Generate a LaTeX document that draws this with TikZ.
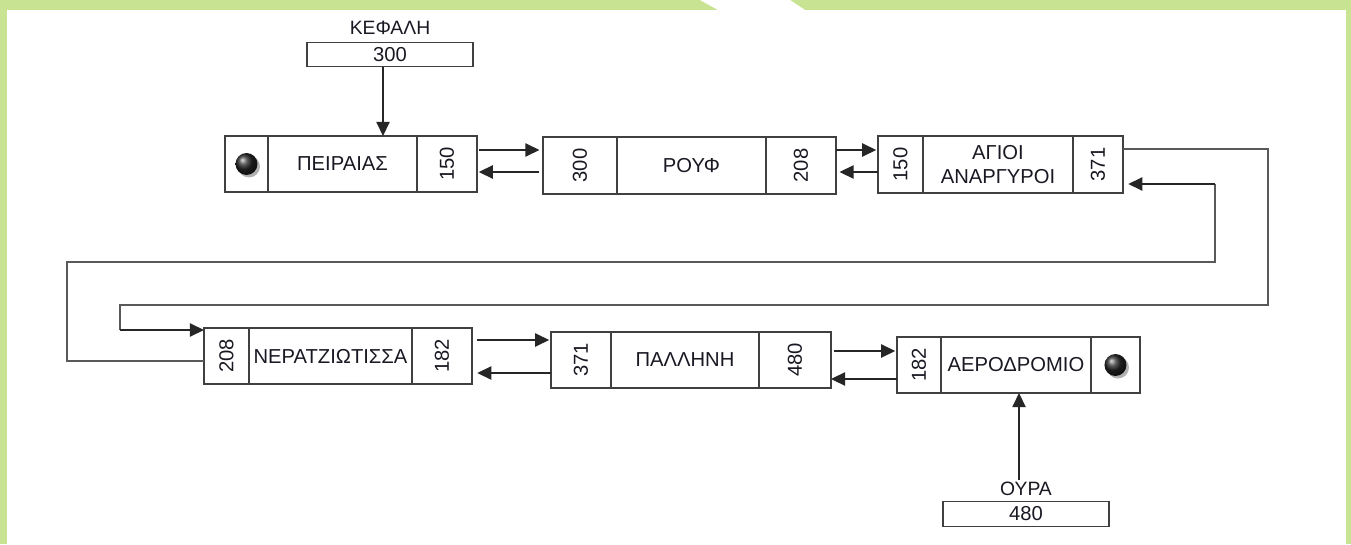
\documentclass[tikz,border=0pt]{standalone}
\usepackage{fontspec}
\setmainfont{Liberation Sans}
\usepackage{graphicx}
\usepackage{tikz}
\usetikzlibrary{arrows.meta,positioning}
\definecolor{frame}{RGB}{200,227,145}
\definecolor{ink}{RGB}{25,25,35}

\begin{document}
\begin{tikzpicture}[x=0.02cm,y=-0.02cm,
  cell/.style={draw=black!75,line width=0.8pt,fill=white,
               minimum height=1.12cm,inner sep=0pt,outer sep=0pt,
               font=\fontsize{11.5}{14}\selectfont,text=ink,align=center},
  ptr/.style={draw=black!75,line width=0.8pt,fill=white,
              minimum width=3.32cm,minimum height=0.49cm,inner sep=0pt,
              font=\fontsize{11.5}{13}\selectfont,text=ink},
  lbl/.style={font=\fontsize{11}{12}\selectfont,text=ink,inner sep=1pt},
  arr/.style={-{Triangle[length=8pt,width=7.5pt]},line width=0.8pt,color=black!85},
  link/.style={line width=0.7pt,color=black!65},
  nil/.style={ball color=black!85}
]
\useasboundingbox (0,0) rectangle (1351,544);

% frame
\fill[frame] (0,0) rectangle (1351,544);
\fill[white] (7,10) rectangle (1346,544);
\fill[white] (700,0) -- (790,0) -- (805,10) -- (718,10) -- cycle;

% head pointer
\node[lbl] (headlbl) at (390,28) {ΚΕΦΑΛΗ};
\node[ptr] (head) at (390,54.5) {300};

% first row
\node[cell,minimum width=0.86cm,anchor=west] (p1a) at (225,164) {};
\node[cell,minimum width=2.98cm,right=0pt of p1a] (p1b) {ΠΕΙΡΑΙΑΣ};
\node[cell,minimum width=1.2cm,right=0pt of p1b] (p1c) {\rotatebox{90}{150}};

\node[cell,minimum width=1.48cm,minimum height=1.14cm,anchor=west] (p2a) at (543,165.5) {\rotatebox{90}{300}};
\node[cell,minimum width=2.98cm,minimum height=1.14cm,right=0pt of p2a] (p2b) {ΡΟΥΦ};
\node[cell,minimum width=1.4cm,minimum height=1.14cm,right=0pt of p2b] (p2c) {\rotatebox{90}{208}};

\node[cell,minimum width=0.9cm,minimum height=1.14cm,anchor=west] (p3a) at (878,164.5) {\rotatebox{90}{150}};
\node[cell,minimum width=3cm,minimum height=1.14cm,right=0pt of p3a] (p3b) {ΑΓΙΟΙ\\ΑΝΑΡΓΥΡΟΙ};
\node[cell,minimum width=1cm,minimum height=1.14cm,right=0pt of p3b] (p3c) {\rotatebox{90}{371}};

% second row
\node[cell,minimum width=0.9cm,anchor=west] (p4a) at (204,356) {\rotatebox{90}{208}};
\node[cell,minimum width=3.26cm,right=0pt of p4a] (p4b) {ΝΕΡΑΤΖΙΩΤΙΣΣΑ};
\node[cell,minimum width=1.2cm,right=0pt of p4b] (p4c) {\rotatebox{90}{182}};

\node[cell,minimum width=1.2cm,anchor=west] (p5a) at (551,360) {\rotatebox{90}{371}};
\node[cell,minimum width=2.96cm,right=0pt of p5a] (p5b) {ΠΑΛΛΗΝΗ};
\node[cell,minimum width=1.44cm,right=0pt of p5b] (p5c) {\rotatebox{90}{480}};

\node[cell,minimum width=0.88cm,anchor=west] (p6a) at (897,365) {\rotatebox{90}{182}};
\node[cell,minimum width=3cm,right=0pt of p6a] (p6b) {ΑΕΡΟΔΡΟΜΙΟ};
\node[cell,minimum width=0.98cm,right=0pt of p6b] (p6c) {};

% tail pointer
\node[lbl] (taillbl) at (1026,489) {ΟΥΡΑ};
\node[ptr] (tail) at (1026,514) {480};

% null ends
\fill[black!30] ([shift={(0.05cm,-0.05cm)}]p1a.center) circle (0.22cm);
\shade[nil] (p1a.center) circle (0.22cm);
\fill[black!30] ([shift={(0.05cm,-0.05cm)}]p6c.center) circle (0.22cm);
\shade[nil] (p6c.center) circle (0.22cm);

% head and tail arrows
\draw[arr] (head.south -| 383,0) -- (p1b.north -| 383,0);
\draw[arr] (taillbl.north -| 1019,0) -- (p6b.south -| 1019,0);

% first row links
\draw[arr,shorten <=1pt,shorten >=2pt] (p1c.east |- 0,150) -- (p2a.west |- 0,150);
\draw[arr,shorten <=2pt,shorten >=1pt] (p2a.west |- 0,172) -- (p1c.east |- 0,172);
\draw[arr,shorten >=1pt] (p2c.east |- 0,150) -- (p3a.west |- 0,150);
\draw[arr,shorten >=2pt] (p3a.west |- 0,172) -- (p2c.east |- 0,172);

% wrap-around links
\draw[link] (p3c.east |- 0,149) -- (1268,149) -- (1268,305) -- (120,305) -- (120,330);
\draw[arr] (120,330) -- (p4a.west |- 0,330);
\draw[link] (p4a.west |- 0,361) -- (67,361) -- (67,262) -- (1215,262) -- (1215,184);
\draw[arr,shorten >=3pt] (1215,184) -- (p3c.east |- 0,184);

% second row links
\draw[arr,shorten <=3pt,shorten >=1pt] (p4c.east |- 0,340) -- (p5a.west |- 0,340);
\draw[arr,shorten >=3pt] (p5a.west |- 0,373) -- (p4c.east |- 0,373);
\draw[arr,shorten <=2pt,shorten >=1pt] (p5c.east |- 0,351) -- (p6a.west |- 0,351);
\draw[arr] (p6a.west |- 0,379) -- (p5c.east |- 0,379);

\end{tikzpicture}
\end{document}
